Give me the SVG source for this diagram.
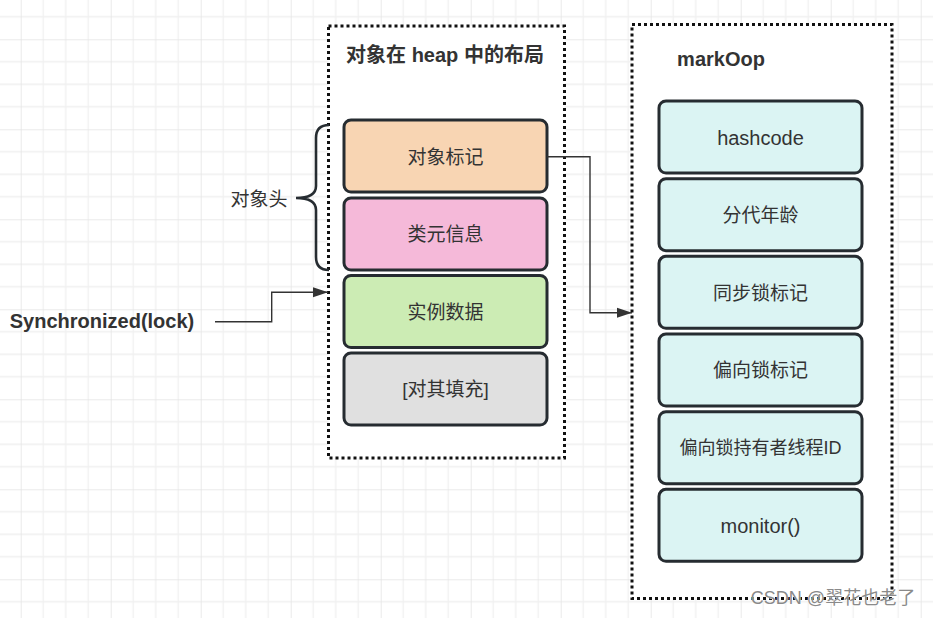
<svg xmlns="http://www.w3.org/2000/svg" width="933" height="618" viewBox="0 0 933 618">
<style>
.t{font-family:"Liberation Sans","Noto Sans CJK SC",sans-serif;fill:#333;text-anchor:middle;dominant-baseline:central}
.b{font-weight:bold}
.box{stroke:#262c31;stroke-width:3}
.cont{fill:#fff;stroke:#111;stroke-width:3;stroke-dasharray:3 3}
.conn{fill:none;stroke:#333;stroke-width:1.4}
</style>
<defs>
<pattern id="grid" patternUnits="userSpaceOnUse" x="20.7" y="39.3" width="90" height="90">
<path d="M22.5 0V90M45 0V90M67.5 0V90M0 22.5H90M0 45H90M0 67.5H90" stroke="#f0f0f0" stroke-width="1.3" fill="none"/>
<path d="M0 0V90M0 0H90" stroke="#e4e4e4" stroke-width="1.5" fill="none"/>
</pattern>
<marker id="arr" markerWidth="16" markerHeight="12" refX="15" refY="6" orient="auto" markerUnits="userSpaceOnUse">
<path d="M0 1L15 6L0 11Z" fill="#333"/>
</marker>
</defs>
<rect width="933" height="618" fill="#fff"/>
<rect width="933" height="618" fill="url(#grid)"/>

<g id="heap-container">
<rect class="cont" x="328.5" y="26" width="236" height="432"/>
<text class="t b" x="445" y="55" font-size="20">对象在 heap 中的布局</text>
</g>
<g id="markoop-container">
<rect class="cont" x="632" y="24.5" width="260" height="574"/>
<text class="t b" x="721" y="59" font-size="20">markOop</text>
</g>

<g id="header-brace">
<path d="M329 125Q316 125 316 138L316 186Q316 198 296 198Q316 198 316 210L316 257Q316 270 329 270" fill="none" stroke="#262c31" stroke-width="2.6"/>
<text class="t" x="259" y="199" font-size="19">对象头</text>
</g>

<g id="mark-word"><rect class="box" x="344" y="120" width="203" height="72" rx="7" fill="#f8d5b3"/><text class="t" x="445.5" y="157" font-size="19">对象标记</text></g>
<g id="klass"><rect class="box" x="344" y="198" width="203" height="72" rx="7" fill="#f5b9d9"/><text class="t" x="445.5" y="234.5" font-size="19">类元信息</text></g>
<g id="instance-data"><rect class="box" x="344" y="275.5" width="203" height="72" rx="7" fill="#ccecb4"/><text class="t" x="445.5" y="312" font-size="19">实例数据</text></g>
<g id="padding"><rect class="box" x="344" y="353" width="203" height="72" rx="7" fill="#e0e0e0"/><text class="t" x="445.5" y="389.5" font-size="19">[对其填充]</text></g>

<g id="hashcode"><rect class="box" x="659" y="101" width="203" height="72" rx="7" fill="#dbf4f3"/><text class="t" x="760.5" y="137.5" font-size="20">hashcode</text></g>
<g id="age"><rect class="box" x="659" y="178.7" width="203" height="72" rx="7" fill="#dbf4f3"/><text class="t" x="760.5" y="215" font-size="19">分代年龄</text></g>
<g id="sync-lock"><rect class="box" x="659" y="256.3" width="203" height="72" rx="7" fill="#dbf4f3"/><text class="t" x="760.5" y="293" font-size="19">同步锁标记</text></g>
<g id="biased-lock"><rect class="box" x="659" y="334" width="203" height="72" rx="7" fill="#dbf4f3"/><text class="t" x="760.5" y="370.5" font-size="19">偏向锁标记</text></g>
<g id="biased-owner"><rect class="box" x="659" y="411.7" width="203" height="72" rx="7" fill="#dbf4f3"/><text class="t" x="760.5" y="448" font-size="18">偏向锁持有者线程ID</text></g>
<g id="monitor"><rect class="box" x="659" y="489.3" width="203" height="72" rx="7" fill="#dbf4f3"/><text class="t" x="760.5" y="526" font-size="20">monitor()</text></g>

<g id="sync-label"><text class="t b" x="102" y="321" font-size="20">Synchronized(lock)</text></g>

<g id="connectors">
<path class="conn" d="M215 321.7H271.7V292.3H328" marker-end="url(#arr)"/>
<path class="conn" d="M547 156.7H590V312.7H632" marker-end="url(#arr)"/>
</g>

<text x="833" y="598" font-family="'Liberation Sans','Noto Sans CJK SC',sans-serif" font-size="18" fill="#8a8a8a" text-anchor="middle" dominant-baseline="central" stroke="#fff" stroke-width="0.6" paint-order="stroke">CSDN @翠花也老了</text>
</svg>
